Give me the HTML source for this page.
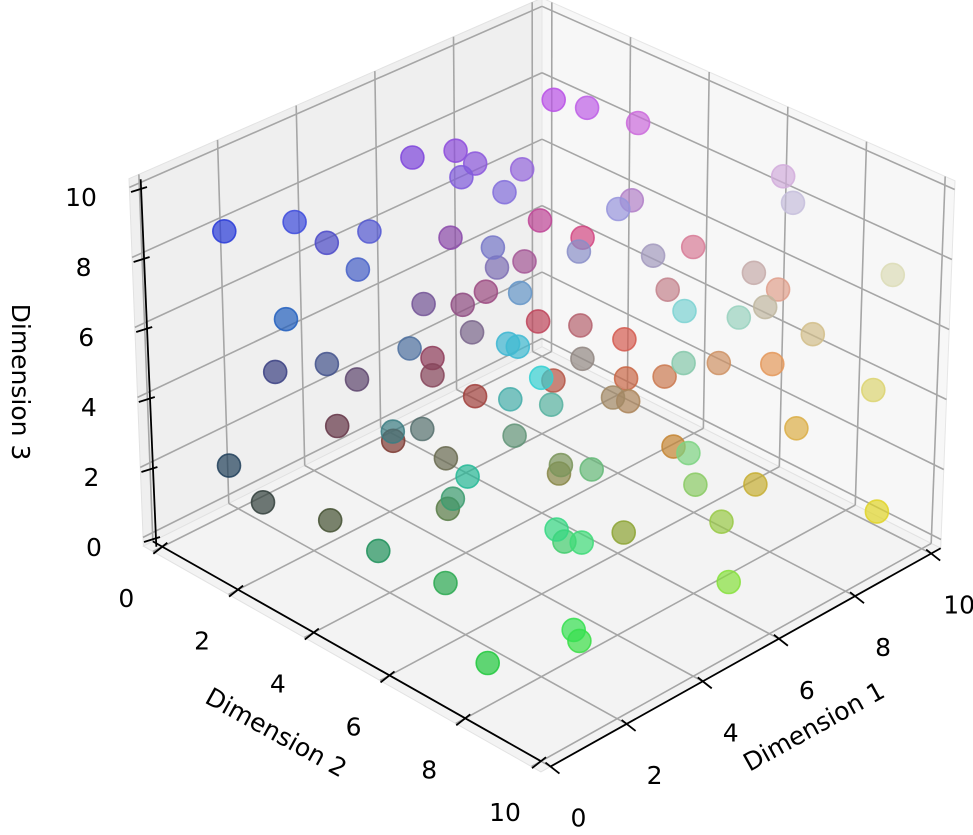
<!DOCTYPE html>
<html><head><meta charset="utf-8"><style>
html,body{margin:0;padding:0;background:#fff;}
svg{display:block;font-family:"DejaVu Sans","Liberation Sans",sans-serif;}
</style></head><body>
<svg id="chart" width="973" height="835" viewBox="0 0 973 835" xmlns="http://www.w3.org/2000/svg">
<g id="panes"></g>
<g id="grid"></g>
<g id="axes"></g>
<g id="points"></g>
<text x="0" y="0" font-size="25" text-anchor="middle" transform="translate(818,734) rotate(-29)">Dimension 1</text>
<text x="0" y="0" font-size="25" text-anchor="middle" transform="translate(272,740) rotate(29)">Dimension 2</text>
<text x="0" y="0" font-size="25" text-anchor="middle" transform="translate(12,382) rotate(90)">Dimension 3</text>
</svg>
<script>
const dim1 = [0.5,1.5,2.3,2.7,2.0,4.8,5.55,5.45,4.9,5.9,5.05,5.45,8.0,4.35,4.8,6.7,6.3,3.5,8.0,4.25,5.65,0.2,4.6,1.55,1.6,2.45,5.65,5.2,1.4,1.85,3.2,6.55,2.0,1.1,7.55,2.85,3.5,0.15,1.0,1.9,1.45,4.75,2.8,3.7,0.4,1.45,2.9,3.4,0.05,0.6,0.1,1.15,1.4,1.15,1.85,1.6,4.6,5.25,3.55,6.55,7.1,7.75,7.95,8.65,9.0,8.4,7.4,6.05,9.0,5.35,6.65,9.25,8.4,9.65,8.25,4.65,6.1,8.1,9.5,9.0,7.55,9.1,5.8,5.15,8.8,9.9,8.55,8.65,9.5,8.3,4.75,5.4,8.4,9.45,9.7,6.15,5.5,5.2];
const dim2 = [1.4,2.2,2.2,2.9,3.3,1.9,2.25,2.85,3.05,3.6,4.0,2.2,1.95,4.4,4.05,2.85,2.25,5.95,1.9,2.7,2.3,3.25,3.6,7.6,7.8,4.15,1.5,1.95,1.7,2.6,2.0,1.7,7.2,8.9,2.75,7.4,1.15,1.7,1.7,2.55,4.7,1.35,4.1,3.8,7.7,6.25,4.65,5.9,5.7,6.9,8.5,9.7,9.6,9.25,8.75,9.45,5.9,5.2,7.75,5.3,5.15,2.55,3.2,3.8,7.15,8.0,4.9,5.9,2.05,5.6,6.2,4.65,7.05,6.45,5.0,9.0,8.95,7.65,9.5,8.0,3.45,3.05,5.25,8.5,5.8,6.1,3.65,4.55,9.1,5.15,9.05,8.6,7.2,7.2,9.1,8.55,6.65,9.7];
const dim3 = [9.3,9.5,8.5,9.0,8.5,9.5,9.5,9.5,9.5,9.5,9.5,7,6,8.5,7.5,6,5,8.5,3,6,5,8,5.5,9,9,6.5,3,3,5,5.5,4,1.5,7,9,2,6.5,2,3,1.5,1,5,1,4,2.5,6,4,2,4.5,3,2.5,1.5,2.5,2,5,4,4.5,3,2,4.5,3.5,3,10,10,9.5,9.5,9.5,8.5,9.5,5,8.5,8,6,7,5.5,5.5,9,8,6.5,7.6,5.4,4,2.5,5,7,3.5,3,2,2.5,4.1,1,5,3.5,1,2,0.5,2,1,1.5];
const tickValues = [0,2,4,6,8,10];
const tickLabels = ["0","2","4","6","8","10"];

const NS = "http://www.w3.org/2000/svg";
const C = {
  p000:[162,538], p100:[542,348], p010:[541,752], p110:[922,540],
  p001:[149,188], p101:[542,15],  p011:[541,384], p111:[935,190]
};
function proj(x,y,z){
  const u=x/10, v=y/10, w=z/10;
  const out=[0,0];
  for(let k=0;k<2;k++){
    const a = C.p000[k]*(1-u)*(1-v) + C.p100[k]*u*(1-v) + C.p010[k]*(1-u)*v + C.p110[k]*u*v;
    const b = C.p001[k]*(1-u)*(1-v) + C.p101[k]*u*(1-v) + C.p011[k]*(1-u)*v + C.p111[k]*u*v;
    out[k] = a*(1-w) + b*w;
  }
  return out;
}
const lo=-0.25, hi=10.25;
function el(tag, attrs, parent){
  const e=document.createElementNS(NS,tag);
  for(const k in attrs) e.setAttribute(k, attrs[k]);
  parent.appendChild(e); return e;
}
function poly(pts){ return pts.map(p=>p[0].toFixed(1)+","+p[1].toFixed(1)).join(" "); }

const panes=document.getElementById('panes');
const leftWall=el('polygon',{points:poly([proj(lo,lo,lo),proj(hi,lo,lo),proj(hi,lo,hi),proj(lo,lo,hi)]),fill:'#efefef',stroke:'#e2e2e2','stroke-width':1},panes);


const rightWall=el('polygon',{points:poly([proj(hi,lo,lo),proj(hi,hi,lo),proj(hi,hi,hi),proj(hi,lo,hi)]),fill:'#f7f7f7',stroke:'#e6e6e6','stroke-width':1},panes);


const floor=el('polygon',{points:poly([proj(lo,lo,lo),proj(hi,lo,lo),proj(hi,hi,lo),proj(lo,hi,lo)]),fill:'#f3f3f3',stroke:'#e2e2e2','stroke-width':1},panes);



const grid=document.getElementById('grid');
function gline(a,b,name){
  const l=el('line',{x1:a[0],y1:a[1],x2:b[0],y2:b[1],stroke:'#a6a6a6','stroke-width':1.6},grid);
  
  
}
tickValues.forEach(t=>{
  gline(proj(t,lo,lo),proj(t,hi,lo),'floor-grid-x');
  gline(proj(lo,t,lo),proj(hi,t,lo),'floor-grid-y');
  gline(proj(t,lo,lo),proj(t,lo,hi),'wall-grid-x');
  gline(proj(lo,lo,t),proj(hi,lo,t),'wall-grid-z');
  gline(proj(hi,t,lo),proj(hi,t,hi),'wall-grid-y');
  gline(proj(hi,lo,t),proj(hi,hi,t),'wall-grid-z2');
});

const axes=document.getElementById('axes');
function aline(a,b,name){
  const l=el('line',{x1:a[0],y1:a[1],x2:b[0],y2:b[1],stroke:'#000','stroke-width':1.8},axes);
  
  
}
function alabel(p,txt,name){
  const t=el('text',{x:p[0],y:p[1],'font-size':25,'text-anchor':'middle',fill:'#000'},axes);
  t.textContent=txt;
  
  
}
aline(proj(0,hi,lo),proj(hi,hi,lo),'x-axis-line');
tickValues.forEach((t,i)=>{
  const p=proj(t,hi,lo);
  aline([p[0]-5,p[1]-4],[p[0]+9,p[1]+7],'x-tick');
  alabel([p[0]+28,p[1]+60],tickLabels[i],'x-tick-label');
});
aline(proj(0,lo,lo),proj(0,10,lo),'y-axis-line');
tickValues.forEach((t,i)=>{
  const p=proj(0,t,lo);
  aline([p[0]+5,p[1]-4],[p[0]-9,p[1]+7],'y-tick');
  alabel([p[0]-36,p[1]+60],tickLabels[i],'y-tick-label');
});
{
  const a=proj(0,0,lo), b=proj(0,0,hi);
  aline([a[0]-6,a[1]],[b[0]-8,b[1]],'z-axis-line');
  tickValues.forEach((t,i)=>{
    const p=proj(0,0,t);
    aline([p[0]-18,p[1]+4],[p[0]-2,p[1]-1],'z-tick');
    alabel([p[0]-68,p[1]+18],tickLabels[i],'z-tick-label');
  });
}

const pg=document.getElementById('points');
const idx=dim1.map((_,i)=>i);
idx.sort((a,b)=>((dim1[b]-dim2[b])*0.6-dim3[b]*0.5)-((dim1[a]-dim2[a])*0.6-dim3[a]*0.5));
function ch(v){ return Math.round(30 + Math.min(1,Math.max(0,v/10))*200); }
idx.forEach(i=>{
  const x=dim1[i], y=dim2[i], z=dim3[i];
  const p=proj(x,y,z);
  const col='rgb('+ch(x)+','+ch(y)+','+ch(z)+')';
  const c=el('circle',{cx:p[0].toFixed(1),cy:p[1].toFixed(1),r:11.5,fill:col,'fill-opacity':0.7,stroke:col,'stroke-opacity':0.85,'stroke-width':1.6},pg);
  
  
});
</script>
</body></html>
